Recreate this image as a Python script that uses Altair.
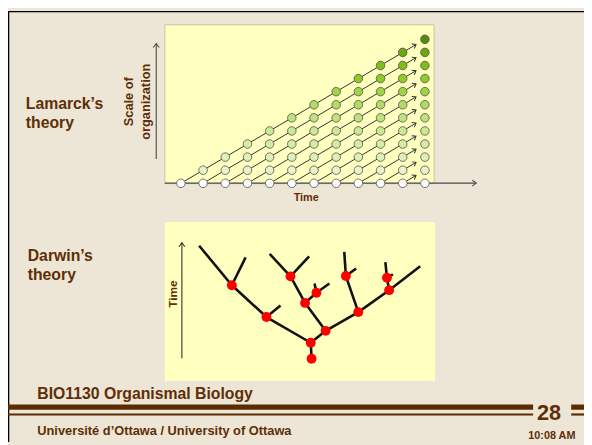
import math
import altair as alt
import pandas as pd

FONT = "Liberation Sans, Arial, sans-serif"
BROWN = "#5E2F06"
LINE_BROWN = "#5A2C00"
BG = "#EDE5D5"
PANEL = "#FFFFC0"

# ---------------- Lamarck panel data ----------------
lam_times = list(range(12))            # time steps (columns of dots)
lam_levels = list(range(12))           # scale-of-organization levels
lam_level_colors = ["#FFFFFF", "#E8F4CC", "#DEEFBA", "#D6EBA8", "#CCE896", "#BFE27E",
                    "#B1DC64", "#A0D444", "#8FC92A", "#80BC1A", "#6EA612", "#578A0A"]
lam_line_starts = list(range(11))      # each lineage starts at the bottom at these times
lam_arrow_tip = 10.6                   # time at which the arrows end

# ---------------- Darwin panel data (x across panel 0-100, time 0-100 upward) ----------------
dar_node_names = ["A", "B", "C", "D", "E", "F", "G", "H", "I", "J", "K", "L"]
dar_node_x     = [54.3, 54.0, 59.5, 37.6, 51.9, 56.1, 24.8, 46.5, 67.0, 71.6, 83.0, 82.2]
dar_node_time  = [13.9, 24.0, 31.5, 40.2, 49.1, 55.5, 60.2, 65.8, 66.0, 43.3, 57.1, 65.0]
dar_tip_names  = ["t1", "t2", "t3", "t4", "t5", "t6", "t7", "t8", "t9", "t10", "t11", "t12"]
dar_tip_x      = [12.7, 29.9, 42.8, 38.8, 53.4, 55.4, 60.9, 66.4, 70.8, 94.5, 81.6, 84.4]
dar_tip_time   = [85.1, 77.8, 47.4, 79.9, 78.4, 61.3, 61.3, 81.2, 70.8, 72.2, 74.7, 67.1]
dar_edges = [("A", "B"), ("B", "D"), ("D", "G"), ("G", "t1"), ("G", "t2"), ("D", "t3"),
             ("B", "C"), ("C", "E"), ("E", "H"), ("H", "t4"), ("H", "t5"), ("E", "F"),
             ("F", "t6"), ("F", "t7"), ("C", "J"), ("J", "I"), ("I", "t8"), ("I", "t9"),
             ("J", "K"), ("K", "t10"), ("K", "L"), ("L", "t11"), ("L", "t12")]

# ---------------- tables ----------------
dots = pd.DataFrame([{"t": c, "level": k} for c in lam_times for k in lam_levels if k <= c])
lines = pd.DataFrame(
    [{"lineage": j, "t": j, "level": 0} for j in lam_line_starts]
    + [{"lineage": j, "t": lam_arrow_tip, "level": lam_arrow_tip - j} for j in lam_line_starts]
)
tips = pd.DataFrame([{"t": lam_arrow_tip, "level": lam_arrow_tip - j} for j in lam_line_starts])

pos = {n: (x, y) for n, x, y in zip(dar_node_names, dar_node_x, dar_node_time)}
pos.update({n: (x, y) for n, x, y in zip(dar_tip_names, dar_tip_x, dar_tip_time)})
segs = pd.DataFrame([{"x": pos[a][0], "y": pos[a][1], "x2": pos[b][0], "y2": pos[b][1]}
                     for a, b in dar_edges])
nodes = pd.DataFrame({"x": dar_node_x, "y": dar_node_time})

# ---------------- scales (chart pixel ranges of the panels) ----------------
LAM_XR = [175.3, 422.7]
LAM_YR = [174.7, 28.7]
lam_x = alt.Scale(domain=[0, 11], range=LAM_XR, zero=False, nice=False)
lam_y = alt.Scale(domain=[0, 11], range=LAM_YR, zero=False, nice=False)
dar_x = alt.Scale(domain=[0, 100], range=[159, 433], zero=False, nice=False)
dar_y = alt.Scale(domain=[0, 100], range=[375, 214], zero=False, nice=False)

CHEVRON = "M-1,-0.75L0,0L-1,0.75"
lam_angle = 360 - math.degrees(math.atan2(abs(LAM_YR[1] - LAM_YR[0]) / 11,
                                          (LAM_XR[1] - LAM_XR[0]) / 11))

one = pd.DataFrame({"a": [0]})


def rect(x, x2, y, y2, color, stroke=None, sw=0):
    kw = {}
    if stroke:
        kw = {"stroke": stroke, "strokeWidth": sw}
    return alt.Chart(one).mark_rect(color=color, **kw).encode(
        x=alt.value(x), x2=alt.value(x2), y=alt.value(y), y2=alt.value(y2))


def rule(x, y, x2, y2, color, width):
    return alt.Chart(one).mark_rule(color=color, strokeWidth=width).encode(
        x=alt.value(x), x2=alt.value(x2), y=alt.value(y), y2=alt.value(y2))


def head(x, y, angle, size, color):
    return alt.Chart(one).mark_point(shape=CHEVRON, filled=False, stroke=color, strokeWidth=1.1,
                                     size=size, angle=angle, opacity=1).encode(
        x=alt.value(x), y=alt.value(y))


def txt(s, x, y, size, angle=0, align="left", baseline="alphabetic"):
    return alt.Chart(one).mark_text(text=s, font=FONT, fontWeight="bold", fontSize=size,
                                    color=BROWN, align=align, baseline=baseline,
                                    angle=angle).encode(x=alt.value(x), y=alt.value(y))


layers = [
    # slide frame
    rect(0, 584, 0, 1.3, "#000000"),
    rect(0, 1.3, 0, 437, "#000000"),
    # panels
    rect(159, 432, 14, 175, PANEL, stroke="#BDB8A0", sw=0.8),
    rect(159, 433, 214, 375, PANEL),
    # Lamarck axes
    rule(150.3, 33, 150.3, 150, "#4A4A4A", 1.1),
    head(150.3, 33, 270, 64, "#4A4A4A"),
    rule(159, 174.5, 474.7, 174.5, "#4A4A4A", 1.3),
    head(474.7, 174.5, 0, 64, "#4A4A4A"),
    # Lamarck lineages
    alt.Chart(lines).mark_line(color="#333333", strokeWidth=1).encode(
        x=alt.X("t:Q", scale=lam_x, axis=None),
        y=alt.Y("level:Q", scale=lam_y, axis=None),
        detail="lineage:N"),
    alt.Chart(tips).mark_point(shape=CHEVRON, filled=False, stroke="#333333", strokeWidth=1,
                               size=50, angle=lam_angle, opacity=1).encode(
        x=alt.X("t:Q", scale=lam_x, axis=None),
        y=alt.Y("level:Q", scale=lam_y, axis=None)),
    alt.Chart(dots).mark_point(shape="circle", filled=True, size=75, stroke="#505050",
                               strokeWidth=0.8, opacity=1).encode(
        x=alt.X("t:Q", scale=lam_x, axis=None),
        y=alt.Y("level:Q", scale=lam_y, axis=None),
        fill=alt.Fill("level:O", scale=alt.Scale(domain=lam_levels, range=lam_level_colors),
                      legend=None)),
    # Darwin time arrow
    rule(176.3, 235, 176.3, 352, "#333333", 1.1),
    head(176.3, 235, 270, 64, "#333333"),
    # Darwin tree
    alt.Chart(segs).mark_rule(color="#111111", strokeWidth=2.6).encode(
        x=alt.X("x:Q", scale=dar_x, axis=None), x2="x2:Q",
        y=alt.Y("y:Q", scale=dar_y, axis=None), y2="y2:Q"),
    alt.Chart(nodes).mark_circle(size=100, color="#FF0000", opacity=1).encode(
        x=alt.X("x:Q", scale=dar_x, axis=None),
        y=alt.Y("y:Q", scale=dar_y, axis=None)),
    # labels
    txt("Lamarck\u2019s", 18, 99.3, 16),
    txt("theory", 18, 118.7, 16),
    txt("Darwin\u2019s", 20, 253.7, 16),
    txt("theory", 20, 273, 16),
    txt("Scale of", 123, 92, 13, angle=270, align="center", baseline="middle"),
    txt("organization", 139.7, 92, 13, angle=270, align="center", baseline="middle"),
    txt("Time", 302.3, 193, 11, align="center"),
    txt("Time", 167, 287, 12, angle=270, align="center", baseline="middle"),
    # footer
    rect(0, 532.4, 399, 404.3, LINE_BROWN),
    rect(0, 532.4, 408, 410.2, LINE_BROWN),
    rect(571, 584, 399, 404.3, LINE_BROWN),
    rect(571, 584, 408, 410.2, LINE_BROWN),
    txt("BIO1130 Organismal Biology", 29.7, 393, 16),
    txt("Universit\u00e9 d\u2019Ottawa / University of Ottawa", 29.7, 430, 13),
    txt("28", 548.6, 414.8, 22, align="center"),
    txt("10:08 AM", 551.4, 433.5, 11, align="center"),
]

chart = alt.layer(*layers).resolve_scale(
    x="independent", y="independent", fill="independent"
).properties(
    width=584, height=437, background=BG, padding=0,
    autosize=alt.AutoSizeParams(type="none"),
).configure_view(stroke=None)

chart.save("out.html", embed_options={"renderer": "svg", "actions": False})
